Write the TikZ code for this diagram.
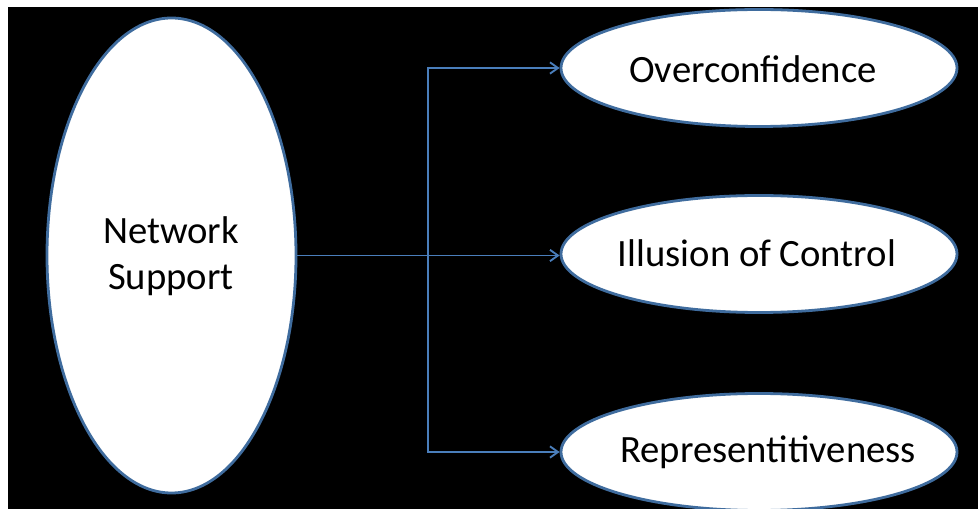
\documentclass[tikz,border=0pt]{standalone}
\usepackage{fontspec}
\setmainfont{Carlito}
\usetikzlibrary{shapes.geometric,arrows.meta}
\definecolor{rim}{HTML}{3F6C9E}
\definecolor{linkblue}{HTML}{4A7EBB}
\begin{document}
\begin{tikzpicture}[x=0.75pt,y=-0.75pt,
  bubble/.style={ellipse,draw=rim,line width=2.1pt,fill=white,inner sep=0pt},
  wide/.style={bubble,minimum width=297pt,minimum height=87.75pt},
  label text/.style={font=\fontsize{29pt}{34.5pt}\selectfont,text=black,align=center},
  link/.style={draw=linkblue,line width=1.4pt},
  tip/.style={-{Straight Barb[length=6pt,width=8.5pt]}}]
  \useasboundingbox (0,0) rectangle (978,509);
  % page and dark panel
  \fill[white] (0,0) rectangle (978,509);
  \fill[black] (8,7) rectangle (978,509);

  % source ellipse
  \node[bubble,minimum width=186.75pt,minimum height=356.25pt] (ns) at (171.5,255.5) {};
  \node[label text] (nst) at (171,256) {Network\\Support};

  % target ellipses
  \node[wide] (over) at (759,68) {};
  \node[label text] (overt) at (753,69) {Overconfidence};
  \node[wide] (ill) at (759,254) {};
  \node[label text] (illt) at (757,253) {Illusion of Control};
  \node[wide] (rep) at (759,452) {};
  \node[label text] (rept) at (768,452) {Representitiveness};

  % branching connector
  \coordinate (split) at (428,255.5);
  \draw[link,tip] (ns.east) -- (ill.west |- ns.east);
  \draw[link,tip] (split) |- (over.west);
  \draw[link,tip] (split) |- (rep.west);
\end{tikzpicture}
\end{document}
